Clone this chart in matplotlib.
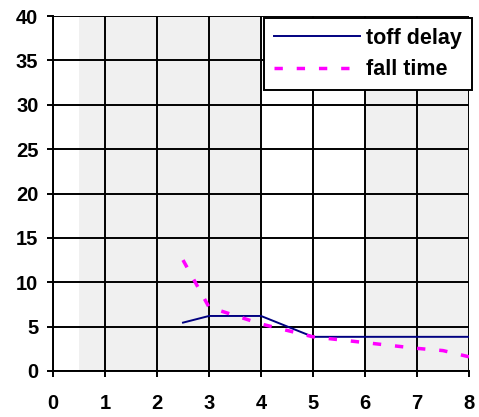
import matplotlib
matplotlib.use("Agg")
import matplotlib.pyplot as plt

# data
toff_x = [2.5, 3, 4, 5, 8]
toff_y = [5.45, 6.2, 6.2, 3.85, 3.85]

fall_x = [2.5, 3, 4, 5, 6, 7, 7.5, 8]
fall_y = [12.5, 7.2, 5.3, 3.85, 3.2, 2.55, 2.3, 1.6]

# shaded background bands (x ranges)
bands = [(0.5, 4), (6, 8)]

x_ticks = list(range(0, 9))
y_ticks = list(range(0, 41, 5))

plt.rcParams["font.family"] = ["Liberation Sans", "DejaVu Sans"]
plt.rcParams["font.weight"] = "bold"

fig = plt.figure(figsize=(4.79, 4.17), dpi=100)
ax = fig.add_axes([53 / 479, 1 - 371 / 417, (469 - 53) / 479, (371 - 16) / 417])

for x0, x1 in bands:
    ax.axvspan(x0, x1, color="#f0f0f0", zorder=0, lw=0)

ax.plot(toff_x, toff_y, color="#000080", lw=1.4, label="toff delay", zorder=3)
ax.plot(fall_x, fall_y, color="#ff00ff", lw=2.5, dashes=(2.4, 4.0),
        label="fall time", zorder=3)

ax.set_xlim(0, 8)
ax.set_ylim(0, 40)
ax.set_xticks(x_ticks)
ax.set_yticks(y_ticks)
ax.grid(True, color="black", lw=1.4, zorder=1)
ax.set_axisbelow(True)
for s in ax.spines.values():
    s.set_visible(False)
ax.spines["left"].set_visible(True)
ax.spines["bottom"].set_visible(True)
ax.spines["left"].set_linewidth(1.4)
ax.spines["bottom"].set_linewidth(1.4)

ax.tick_params(axis="both", direction="out", length=4.5, width=1.4, labelsize=14.5)
ax.tick_params(axis="x", pad=12)
ax.tick_params(axis="y", pad=6)
for lab in ax.get_xticklabels() + ax.get_yticklabels():
    lab.set_fontweight("bold")

leg = ax.legend(loc="upper right", bbox_to_anchor=(472 / 479, 1 - 18 / 417),
                bbox_transform=fig.transFigure, fancybox=False, shadow=False,
                framealpha=1, edgecolor="black", borderaxespad=0,
                prop={"size": 15.5, "weight": "bold"}, handlelength=4.0,
                handletextpad=0.3, borderpad=0.45, labelspacing=0.5)
leg.get_frame().set_linewidth(1.4)
leg.set_zorder(5)

fig.savefig("out.png", dpi=100)
